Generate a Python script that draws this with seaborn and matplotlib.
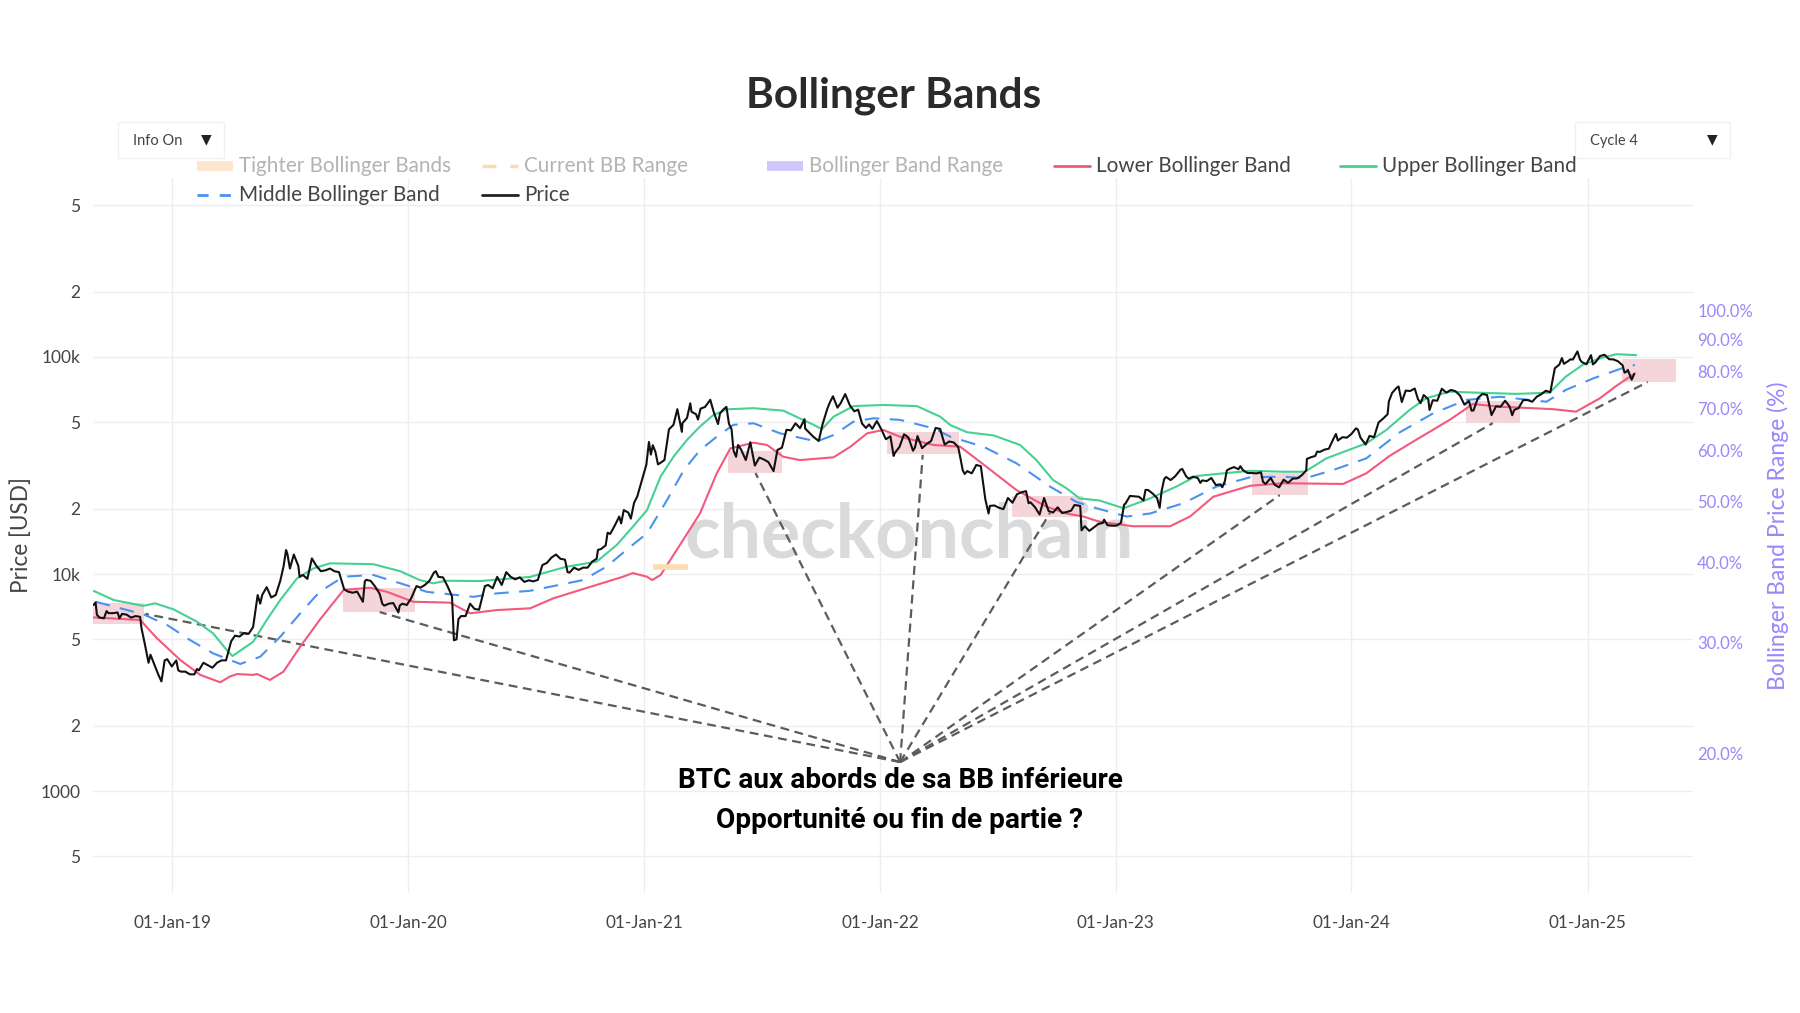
import matplotlib

matplotlib.use("Agg")
import matplotlib.pyplot as plt
import matplotlib.dates as mdates
from matplotlib.lines import Line2D
from matplotlib.patches import Rectangle
from matplotlib.ticker import FixedLocator, FixedFormatter, NullLocator
import pandas as pd
import seaborn as sns


# BTC price (USD)
PRICE_DATES = [
    "2018-09-01", "2018-09-04", "2018-09-06", "2018-09-10", "2018-09-17", "2018-09-21", "2018-09-24",
    "2018-10-01", "2018-10-08", "2018-10-11", "2018-10-15", "2018-10-22", "2018-10-29", "2018-11-05",
    "2018-11-12", "2018-11-14", "2018-11-19", "2018-11-25", "2018-11-28", "2018-12-03", "2018-12-10",
    "2018-12-15", "2018-12-20", "2018-12-24", "2018-12-31", "2019-01-07", "2019-01-10", "2019-01-14",
    "2019-01-21", "2019-01-28", "2019-02-04", "2019-02-08", "2019-02-11", "2019-02-18", "2019-02-25",
    "2019-03-04", "2019-03-11", "2019-03-18", "2019-03-25", "2019-04-02", "2019-04-08", "2019-04-15",
    "2019-04-22", "2019-04-29", "2019-05-06", "2019-05-13", "2019-05-17", "2019-05-20", "2019-05-27",
    "2019-06-03", "2019-06-10", "2019-06-17", "2019-06-22", "2019-06-26", "2019-06-28", "2019-07-02",
    "2019-07-08", "2019-07-15", "2019-07-17", "2019-07-22", "2019-07-29", "2019-08-05", "2019-08-12",
    "2019-08-19", "2019-08-26", "2019-09-02", "2019-09-09", "2019-09-16", "2019-09-24", "2019-09-30",
    "2019-10-07", "2019-10-14", "2019-10-23", "2019-10-26", "2019-10-28", "2019-11-04", "2019-11-11",
    "2019-11-18", "2019-11-22", "2019-11-25", "2019-12-02", "2019-12-09", "2019-12-17", "2019-12-19",
    "2019-12-23", "2019-12-30", "2020-01-06", "2020-01-14", "2020-01-20", "2020-01-27", "2020-02-03",
    "2020-02-10", "2020-02-13", "2020-02-17", "2020-02-24", "2020-03-02", "2020-03-09", "2020-03-12",
    "2020-03-16", "2020-03-19", "2020-03-23", "2020-03-30", "2020-04-06", "2020-04-13", "2020-04-20",
    "2020-04-29", "2020-05-04", "2020-05-11", "2020-05-18", "2020-05-25", "2020-06-01", "2020-06-08",
    "2020-06-15", "2020-06-22", "2020-06-29", "2020-07-06", "2020-07-13", "2020-07-20", "2020-07-27",
    "2020-08-03", "2020-08-10", "2020-08-17", "2020-08-24", "2020-08-31", "2020-09-04", "2020-09-07",
    "2020-09-14", "2020-09-21", "2020-09-28", "2020-10-05", "2020-10-12", "2020-10-19", "2020-10-21",
    "2020-10-26", "2020-11-02", "2020-11-05", "2020-11-09", "2020-11-16", "2020-11-23", "2020-11-26",
    "2020-11-30", "2020-12-07", "2020-12-11", "2020-12-16", "2020-12-21", "2020-12-27", "2020-12-31",
    "2021-01-04", "2021-01-08", "2021-01-11", "2021-01-14", "2021-01-18", "2021-01-22", "2021-01-25",
    "2021-02-01", "2021-02-08", "2021-02-15", "2021-02-21", "2021-02-28", "2021-03-01", "2021-03-08",
    "2021-03-13", "2021-03-15", "2021-03-22", "2021-03-25", "2021-03-29", "2021-04-05", "2021-04-13",
    "2021-04-18", "2021-04-25", "2021-04-28", "2021-05-03", "2021-05-08", "2021-05-12", "2021-05-16",
    "2021-05-19", "2021-05-23", "2021-05-26", "2021-05-31", "2021-06-07", "2021-06-14", "2021-06-21",
    "2021-06-28", "2021-07-05", "2021-07-12", "2021-07-20", "2021-07-26", "2021-08-02", "2021-08-09",
    "2021-08-16", "2021-08-23", "2021-08-30", "2021-09-06", "2021-09-07", "2021-09-13", "2021-09-20",
    "2021-09-28", "2021-10-04", "2021-10-11", "2021-10-15", "2021-10-20", "2021-10-27", "2021-11-01",
    "2021-11-08", "2021-11-15", "2021-11-22", "2021-11-28", "2021-12-04", "2021-12-10", "2021-12-15",
    "2021-12-20", "2021-12-27", "2022-01-03", "2022-01-10", "2022-01-17", "2022-01-22", "2022-01-24",
    "2022-01-31", "2022-02-07", "2022-02-10", "2022-02-14", "2022-02-21", "2022-02-24", "2022-02-28",
    "2022-03-07", "2022-03-14", "2022-03-21", "2022-03-28", "2022-04-04", "2022-04-11", "2022-04-18",
    "2022-04-25", "2022-05-02", "2022-05-09", "2022-05-12", "2022-05-16", "2022-05-23", "2022-05-30",
    "2022-06-06", "2022-06-13", "2022-06-18", "2022-06-20", "2022-06-27", "2022-07-04", "2022-07-11",
    "2022-07-18", "2022-07-25", "2022-08-01", "2022-08-08", "2022-08-15", "2022-08-19", "2022-08-22",
    "2022-08-29", "2022-09-05", "2022-09-12", "2022-09-19", "2022-09-26", "2022-10-03", "2022-10-10",
    "2022-10-17", "2022-10-24", "2022-10-29", "2022-11-07", "2022-11-09", "2022-11-14", "2022-11-21",
    "2022-11-28", "2022-12-05", "2022-12-12", "2022-12-14", "2022-12-19", "2022-12-26", "2023-01-02",
    "2023-01-09", "2023-01-14", "2023-01-16", "2023-01-23", "2023-01-30", "2023-02-06", "2023-02-13",
    "2023-02-16", "2023-02-20", "2023-02-27", "2023-03-06", "2023-03-10", "2023-03-13", "2023-03-17",
    "2023-03-20", "2023-03-27", "2023-04-03", "2023-04-11", "2023-04-14", "2023-04-20", "2023-04-24",
    "2023-05-01", "2023-05-08", "2023-05-12", "2023-05-15", "2023-05-22", "2023-05-29", "2023-06-05",
    "2023-06-12", "2023-06-15", "2023-06-19", "2023-06-22", "2023-06-26", "2023-07-03", "2023-07-10",
    "2023-07-13", "2023-07-17", "2023-07-24", "2023-07-31", "2023-08-07", "2023-08-14", "2023-08-17",
    "2023-08-21", "2023-08-29", "2023-09-04", "2023-09-11", "2023-09-18", "2023-09-25", "2023-10-02",
    "2023-10-09", "2023-10-16", "2023-10-23", "2023-10-24", "2023-10-30", "2023-11-06", "2023-11-09",
    "2023-11-13", "2023-11-20", "2023-11-27", "2023-12-04", "2023-12-08", "2023-12-11", "2023-12-18",
    "2023-12-25", "2024-01-01", "2024-01-08", "2024-01-11", "2024-01-15", "2024-01-23", "2024-01-29",
    "2024-02-05", "2024-02-12", "2024-02-19", "2024-02-26", "2024-02-28", "2024-03-04", "2024-03-11",
    "2024-03-14", "2024-03-19", "2024-03-25", "2024-04-01", "2024-04-08", "2024-04-13", "2024-04-17",
    "2024-04-22", "2024-04-29", "2024-05-01", "2024-05-06", "2024-05-13", "2024-05-20", "2024-05-27",
    "2024-06-03", "2024-06-10", "2024-06-17", "2024-06-24", "2024-07-01", "2024-07-05", "2024-07-08",
    "2024-07-15", "2024-07-22", "2024-07-29", "2024-08-05", "2024-08-12", "2024-08-19", "2024-08-26",
    "2024-09-02", "2024-09-06", "2024-09-09", "2024-09-16", "2024-09-23", "2024-09-30", "2024-10-07",
    "2024-10-14", "2024-10-21", "2024-10-28", "2024-11-04", "2024-11-11", "2024-11-18", "2024-11-22",
    "2024-11-25", "2024-12-02", "2024-12-05", "2024-12-09", "2024-12-16", "2024-12-20", "2024-12-23",
    "2024-12-30", "2025-01-06", "2025-01-09", "2025-01-13", "2025-01-20", "2025-01-27", "2025-02-03",
    "2025-02-10", "2025-02-17", "2025-02-24", "2025-02-27", "2025-03-03", "2025-03-04", "2025-03-10",
    "2025-03-14",
]
PRICE_USD = [
    7200, 7400, 6500, 6300, 6250, 6750, 6600,
    6600, 6650, 6250, 6550, 6500, 6300, 6400,
    6350, 5650, 4800, 3900, 4250, 3900, 3450,
    3200, 4000, 4050, 3750, 4000, 3600, 3550,
    3550, 3450, 3450, 3650, 3600, 3900, 3800,
    3700, 3900, 4000, 4000, 4900, 5200, 5150,
    5350, 5300, 5700, 8000, 7300, 8000, 8700,
    7800, 8000, 9300, 10800, 12900, 12400, 10600,
    12300, 10900, 9700, 9900, 9500, 11800, 10900,
    10300, 10400, 10600, 10300, 10200, 8500, 8300,
    8200, 8300, 7450, 9250, 9400, 9300, 8750,
    8100, 7300, 7150, 7300, 7350, 6650, 7150,
    7300, 7200, 7750, 8800, 8650, 8900, 9300,
    10150, 10300, 9700, 9650, 8800, 7900, 4950,
    5000, 6200, 6400, 6400, 7300, 6900, 6850,
    8800, 8900, 8600, 9700, 8900, 10200, 9700,
    9450, 9650, 9200, 9350, 9250, 9400, 11000,
    11250, 11900, 12300, 11750, 11650, 10200, 10150,
    10700, 10450, 10700, 10700, 11400, 11750, 12900,
    13050, 13550, 15500, 15300, 16700, 18400, 17100,
    19700, 19200, 18000, 21300, 22800, 26300, 29000,
    31900, 40600, 35500, 39200, 36600, 32000, 32400,
    33500, 46400, 48700, 57500, 45200, 49600, 52400,
    61200, 55900, 54500, 51500, 57800, 58900, 63500,
    56200, 49100, 54900, 57200, 58900, 49200, 46400,
    37000, 34700, 39300, 37300, 33500, 40500, 31600,
    34400, 33700, 32800, 29800, 37300, 38200, 46200,
    45900, 49500, 47000, 51700, 46800, 44900, 42800,
    41000, 49100, 57400, 61600, 65900, 58400, 61300,
    67500, 60000, 56200, 57200, 49400, 47100, 48900,
    46700, 50700, 46400, 41800, 43100, 35000, 36200,
    38500, 44000, 43500, 42500, 37000, 38300, 43200,
    38000, 39700, 41000, 47100, 46600, 39500, 40800,
    40400, 38500, 30100, 28900, 29800, 29100, 31800,
    31400, 22100, 19000, 20600, 20700, 20200, 19900,
    22400, 21300, 23300, 23800, 24100, 21200, 21400,
    20300, 18800, 22400, 19500, 19200, 20300, 19100,
    19300, 19600, 20800, 20600, 15900, 16600, 15800,
    16400, 17000, 17200, 17800, 16800, 16700, 16700,
    17200, 20900, 21100, 22900, 22800, 22700, 21800,
    24400, 24400, 23500, 22400, 20200, 24100, 27400,
    28000, 27100, 28200, 30200, 30500, 28200, 27500,
    28100, 27700, 26300, 27000, 26800, 27700, 25700,
    25900, 25100, 26800, 30000, 30500, 31100, 30400,
    31400, 30100, 29200, 29200, 29100, 29400, 26600,
    26000, 27700, 25800, 25100, 27200, 26300, 27500,
    27600, 28500, 30000, 33900, 34500, 35000, 36700,
    36500, 37400, 37800, 41900, 44200, 41200, 42700,
    42500, 44200, 46900, 46300, 42500, 39500, 43300,
    42700, 49900, 52000, 54500, 62500, 68300, 72100,
    73100, 62000, 70000, 69700, 71600, 64000, 61300,
    66800, 63800, 57000, 63200, 62900, 71400, 68500,
    70500, 69600, 66500, 60300, 62700, 56600, 56700,
    64800, 67600, 66800, 54000, 59300, 59000, 62900,
    59100, 53900, 57000, 58200, 63300, 63300, 62200,
    65600, 67400, 69900, 68800, 88700, 92300, 98900,
    93000, 95900, 97500, 97400, 106100, 97200, 94700,
    92600, 102000, 92500, 94500, 101000, 102400, 97700,
    97400, 95500, 91500, 84700, 86000, 87200, 78600,
    83500,
]

UPPER_DATES = [
    "2018-09-01", "2018-10-02", "2018-11-17", "2018-12-05", "2019-01-03", "2019-02-08", "2019-03-05",
    "2019-03-26", "2019-04-04", "2019-05-06", "2019-05-27", "2019-06-17", "2019-07-13", "2019-08-07",
    "2019-09-02", "2019-11-08", "2019-12-20", "2020-01-19", "2020-02-09", "2020-02-29", "2020-04-21",
    "2020-05-22", "2020-07-08", "2020-09-02", "2020-10-19", "2020-11-19", "2020-12-14", "2021-01-05",
    "2021-01-26", "2021-02-15", "2021-03-08", "2021-03-28", "2021-04-18", "2021-05-09", "2021-06-19",
    "2021-08-04", "2021-09-20", "2021-10-03", "2021-10-21", "2021-11-21", "2022-01-06", "2022-02-27",
    "2022-04-04", "2022-04-20", "2022-05-16", "2022-06-26", "2022-08-06", "2022-08-31", "2022-09-26",
    "2022-10-17", "2022-11-06", "2022-12-07", "2023-01-13", "2023-02-23", "2023-04-05", "2023-05-06",
    "2023-06-06", "2023-07-28", "2023-09-17", "2023-10-21", "2023-11-23", "2024-01-24", "2024-02-24",
    "2024-03-31", "2024-04-26", "2024-06-01", "2024-07-12", "2024-09-12", "2024-11-03", "2024-11-28",
    "2024-12-24", "2025-01-20", "2025-02-14", "2025-03-17",
]
UPPER_USD = [
    8360, 7590, 7130, 7330, 6870, 6030, 5330,
    4470, 4190, 4870, 6140, 7590, 9550, 10600,
    11200, 11100, 10300, 9380, 9060, 9310, 9280,
    9440, 9700, 10800, 11400, 13600, 16500, 19700,
    28100, 34700, 41500, 47800, 54100, 57400, 58100,
    56600, 48700, 46500, 53100, 59400, 60100, 59400,
    53100, 48500, 45000, 43500, 39300, 33500, 27100,
    24800, 22300, 21800, 20100, 22300, 25300, 28300,
    28900, 29900, 29600, 29600, 34100, 40000, 46100,
    57000, 64600, 69200, 68500, 67600, 68500, 81200,
    91900, 98600, 103000, 102000,
]

MIDDLE_DATES = [
    "2018-09-04", "2018-11-17", "2018-12-24", "2019-01-28", "2019-03-05", "2019-04-16", "2019-05-17",
    "2019-06-17", "2019-07-18", "2019-08-17", "2019-09-23", "2019-11-08", "2019-12-20", "2020-01-30",
    "2020-04-11", "2020-05-17", "2020-07-08", "2020-09-28", "2020-11-03", "2020-12-04", "2021-01-05",
    "2021-02-05", "2021-03-03", "2021-03-28", "2021-04-23", "2021-05-19", "2021-06-19", "2021-07-30",
    "2021-09-25", "2021-10-21", "2021-11-21", "2021-12-22", "2022-02-01", "2022-03-25", "2022-04-20",
    "2022-06-10", "2022-07-31", "2022-09-21", "2022-11-01", "2022-12-02", "2023-01-18", "2023-02-23",
    "2023-04-16", "2023-06-06", "2023-07-28", "2023-09-17", "2023-10-21", "2023-12-03", "2024-01-24",
    "2024-03-16", "2024-05-07", "2024-06-27", "2024-08-18", "2024-10-29", "2024-11-28", "2025-01-10",
    "2025-03-02", "2025-03-15",
]
MIDDLE_USD = [
    7450, 6520, 5820, 4970, 4310, 3850, 4160,
    5140, 6590, 8280, 9720, 9900, 9060, 8280,
    7850, 8140, 8370, 9380, 10800, 12900, 15400,
    21900, 30100, 37200, 42900, 48700, 49500, 44500,
    40800, 43700, 50400, 52200, 51300, 46900, 42900,
    38600, 32400, 25300, 21500, 20100, 18400, 19000,
    21200, 25300, 27900, 28100, 27600, 30100, 34100,
    45000, 55100, 63400, 65600, 62200, 70500, 79800,
    90200, 91900,
]

LOWER_DATES = [
    "2018-09-01", "2018-11-12", "2018-12-08", "2019-01-13", "2019-02-13", "2019-03-16", "2019-03-31",
    "2019-04-11", "2019-05-06", "2019-05-12", "2019-06-01", "2019-06-22", "2019-07-18", "2019-08-17",
    "2019-09-23", "2019-11-03", "2019-11-29", "2020-01-09", "2020-03-06", "2020-04-06", "2020-05-17",
    "2020-07-08", "2020-08-13", "2020-11-29", "2020-12-14", "2021-01-05", "2021-01-13", "2021-01-26",
    "2021-02-20", "2021-03-28", "2021-04-23", "2021-05-14", "2021-06-19", "2021-07-10", "2021-08-04",
    "2021-08-30", "2021-10-21", "2021-11-16", "2021-12-12", "2022-01-06", "2022-02-01", "2022-03-25",
    "2022-05-05", "2022-06-10", "2022-07-31", "2022-09-16", "2022-10-17", "2022-11-12", "2022-12-07",
    "2023-01-28", "2023-03-26", "2023-04-26", "2023-06-01", "2023-07-02", "2023-07-28", "2023-09-17",
    "2023-12-19", "2024-01-24", "2024-02-29", "2024-04-10", "2024-06-01", "2024-07-07", "2024-08-18",
    "2024-11-08", "2024-12-14", "2025-01-20", "2025-02-14", "2025-03-15",
]
LOWER_USD = [
    6310, 6140, 5060, 4020, 3430, 3170, 3370,
    3460, 3430, 3460, 3250, 3550, 4630, 6140,
    8440, 8650, 8280, 7450, 7380, 6590, 6820,
    6950, 7730, 9720, 10100, 9720, 9380, 9890,
    12900, 19000, 29100, 37900, 40300, 39300, 34700,
    33500, 34500, 38600, 44500, 46100, 42900, 39300,
    38600, 32000, 24400, 20400, 19000, 18400, 17400,
    16600, 16600, 18400, 22700, 24200, 25500, 26200,
    26000, 29100, 35000, 41500, 51300, 60700, 59000,
    57500, 56000, 64600, 73500, 84100,
]

# "Current BB Range" trace (right axis, %)
CURRENT_RANGE_DATES = ["2021-01-15", "2021-03-10"]
CURRENT_RANGE_PCT = [39.4, 39.4]

# highlighted zones where price sits on the lower band
ZONE_START = ["2018-08-31", "2019-09-22", "2021-05-10", "2022-01-12", "2022-07-24",
              "2023-07-31", "2024-06-26", "2025-02-23"]
ZONE_END = ["2018-11-18", "2020-01-12", "2021-08-02", "2022-05-03", "2022-11-11",
            "2023-10-25", "2024-09-18", "2025-05-18"]
ZONE_LOW = [5890, 6680, 29200, 35700, 18300, 23100, 49600, 76700]
ZONE_HIGH = [7350, 8610, 36900, 45100, 22900, 29200, 62700, 97900]

# dashed pointers from the caption to each zone
POINTER_ORIGIN_DATE = "2022-02-01"
POINTER_ORIGIN_USD = 1360
POINTER_DATES = ["2018-11-20", "2019-11-18", "2021-06-22", "2022-03-08", "2022-09-21",
                 "2023-09-12", "2024-08-07", "2025-04-04"]
POINTER_USD = [6550, 6680, 29200, 35400, 19100, 23100, 49600, 76700]

PRICE_TICKS = [500, 1000, 2000, 5000, 10000, 20000, 50000, 100000, 200000, 500000]
PRICE_TICK_LABELS = ["5", "1000", "2", "5", "10k", "2", "5", "100k", "2", "5"]
RANGE_TICKS = [20, 30, 40, 50, 60, 70, 80, 90, 100]
YEAR_TICKS = ["2019-01-01", "2020-01-01", "2021-01-01", "2022-01-01",
              "2023-01-01", "2024-01-01", "2025-01-01"]

C_PRICE = "#111111"
C_UPPER = "#45d191"
C_MIDDLE = "#4a92f0"
C_LOWER = "#f4587c"
C_ZONE = "#f3d5da"
C_PURPLE = "#9b86fb"
C_TEXT = "#444444"
C_HIDDEN = "#b3b3b3"

W, H = 1800, 1013


def fx(px):
    return px / W


def fy(py):
    return 1 - py / H


sns.set_theme(style="white")
plt.rcParams["font.family"] = ["Lato", "DejaVu Sans"]

fig = plt.figure(figsize=(18, 10.13), dpi=100)
fig.patch.set_facecolor("white")
ax = fig.add_axes([fx(93), fy(893), fx(1693) - fx(93), fy(178) - fy(893)])
ax.set_facecolor("white")

price = pd.DataFrame({"date": pd.to_datetime(PRICE_DATES), "usd": PRICE_USD})
upper = pd.DataFrame({"date": pd.to_datetime(UPPER_DATES), "usd": UPPER_USD})
middle = pd.DataFrame({"date": pd.to_datetime(MIDDLE_DATES), "usd": MIDDLE_USD})
lower = pd.DataFrame({"date": pd.to_datetime(LOWER_DATES), "usd": LOWER_USD})

ax.set_yscale("log")
ax.set_ylim(339, 668000)
ax.set_xlim(pd.Timestamp("2018-08-31"), pd.Timestamp("2025-06-13"))

# grid
for t in PRICE_TICKS:
    ax.axhline(t, color="#eeeeee", lw=1, zorder=0)
for d in YEAR_TICKS:
    ax.axvline(pd.Timestamp(d), color="#eeeeee", lw=1, zorder=0)

ax.text(0.51, 0.50, "checkonchain", transform=ax.transAxes, ha="center", va="center",
        fontsize=53, fontweight="bold", color="#dadada", zorder=1)

for s, e, lo, hi in zip(ZONE_START, ZONE_END, ZONE_LOW, ZONE_HIGH):
    ax.fill_between([pd.Timestamp(s), pd.Timestamp(e)], lo, hi, color=C_ZONE, lw=0, zorder=2)

for d, v in zip(POINTER_DATES, POINTER_USD):
    ax.plot([pd.Timestamp(POINTER_ORIGIN_DATE), pd.Timestamp(d)], [POINTER_ORIGIN_USD, v],
            color="#5c5c5c", lw=1.6, dashes=(4, 2.5), zorder=3)

sns.lineplot(data=lower, x="date", y="usd", ax=ax, color=C_LOWER, lw=1.5, zorder=4)
sns.lineplot(data=upper, x="date", y="usd", ax=ax, color=C_UPPER, lw=1.5, zorder=4)
sns.lineplot(data=middle, x="date", y="usd", ax=ax, color=C_MIDDLE, lw=1.5,
             dashes=False, linestyle=(0, (7, 5)), zorder=4)
sns.lineplot(data=price, x="date", y="usd", ax=ax, color=C_PRICE, lw=1.5, zorder=5)

ax.yaxis.set_major_locator(FixedLocator(PRICE_TICKS))
ax.yaxis.set_major_formatter(FixedFormatter(PRICE_TICK_LABELS))
ax.yaxis.set_minor_locator(NullLocator())
ax.set_xticks([pd.Timestamp(d) for d in YEAR_TICKS])
ax.xaxis.set_major_formatter(mdates.DateFormatter("%d-%b-%y"))
ax.tick_params(axis="y", length=0, pad=9, labelsize=12.5, labelcolor=C_TEXT)
ax.tick_params(axis="x", length=0, pad=16, labelsize=12.3, labelcolor=C_TEXT)
ax.set_xlabel("")
ax.set_ylabel("Price [USD]", fontsize=16.3, color=C_TEXT, labelpad=6)
for sp in ax.spines.values():
    sp.set_visible(False)

ax2 = ax.twinx()
ax2.set_yscale("log")
ax2.set_ylim(12.08, 161.4)
ax2.plot(pd.to_datetime(CURRENT_RANGE_DATES), CURRENT_RANGE_PCT, color="#fddcb3", lw=4,
         solid_capstyle="butt", zorder=3)
ax2.yaxis.set_major_locator(FixedLocator(RANGE_TICKS))
ax2.yaxis.set_major_formatter(FixedFormatter([f"{v:.1f}%" for v in RANGE_TICKS]))
ax2.yaxis.set_minor_locator(NullLocator())
ax2.tick_params(axis="y", length=0, pad=3, labelsize=12, labelcolor=C_PURPLE)
ax2.set_ylabel("Bollinger Band Price Range (%)", fontsize=16.5, color=C_PURPLE, labelpad=10)
for sp in ax2.spines.values():
    sp.set_visible(False)
ax2.grid(False)

fig.text(fx(894), fy(96), "Bollinger Bands", ha="center", va="center",
         fontsize=30.5, fontweight="bold", color="#2a2a2a")

fig.text(fx(900), fy(781), "BTC aux abords de sa BB inférieure", ha="center", va="center",
         fontsize=20.2, fontweight="bold", color="black", family=["Roboto", "DejaVu Sans"])
fig.text(fx(900), fy(820), "Opportunité ou fin de partie ?", ha="center", va="center",
         fontsize=20.2, fontweight="bold", color="black", family=["Roboto", "DejaVu Sans"])

# dropdown boxes
for x0, x1, label in [(118, 224, "Info On"), (1575, 1730, "Cycle 4")]:
    fig.add_artist(Rectangle((fx(x0), fy(158)), fx(x1) - fx(x0), fy(122) - fy(158),
                             transform=fig.transFigure, facecolor="white",
                             edgecolor="#f0f0f0", lw=1))
    fig.text(fx(x0 + 15), fy(141), label, ha="left", va="center", fontsize=10.5, color=C_TEXT)
    fig.text(fx(x1 - 18), fy(139), "▼", ha="center", va="center", fontsize=10,
             color="#222222", family=["DejaVu Sans"])

# legend, laid out like the plotly one
legend_items = [
    (197, 166, "Tighter Bollinger Bands", dict(color="#fbe6cd", lw=7, solid_capstyle="butt"), C_HIDDEN),
    (482, 166, "Current BB Range", dict(color="#fcdcae", lw=2.5, dashes=(4, 4)), C_HIDDEN),
    (767, 166, "Bollinger Band Range", dict(color="#cfc6fb", lw=7, solid_capstyle="butt"), C_HIDDEN),
    (1054, 166, "Lower Bollinger Band", dict(color=C_LOWER, lw=2), C_TEXT),
    (1340, 166, "Upper Bollinger Band", dict(color=C_UPPER, lw=2), C_TEXT),
    (197, 195, "Middle Bollinger Band", dict(color=C_MIDDLE, lw=2, dashes=(4, 4)), C_TEXT),
    (482, 195, "Price", dict(color="#222222", lw=2), C_TEXT),
]
for x0, y0, label, style, tcolor in legend_items:
    fig.add_artist(Line2D([fx(x0), fx(x0 + 36)], [fy(y0), fy(y0)],
                          transform=fig.transFigure, **style))
    fig.text(fx(x0 + 42), fy(y0), label, ha="left", va="center", fontsize=14.9, color=tcolor)

fig.savefig("out.png", dpi=100, facecolor="white")
